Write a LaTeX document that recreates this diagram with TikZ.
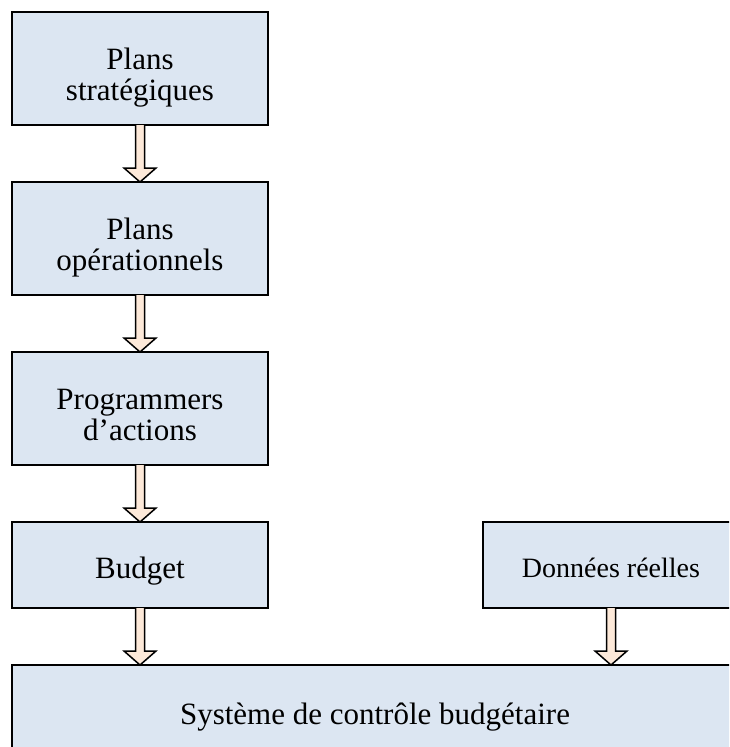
\documentclass[tikz,border=0pt]{standalone}
\usepackage{fontspec}
\setmainfont{Liberation Serif}
\usepackage{xcolor}
\usepackage{tikz}
\usetikzlibrary{positioning, calc}

\definecolor{boxblue}{HTML}{DCE6F2}
\definecolor{arrowpeach}{HTML}{FDE9D9}

% hollow block arrow from the bottom of #1 down to the top of #2
\newcommand{\bigarrow}[2]{%
  \draw[flow] let \p1=(#1.south), \p2=(#2.north) in
    (\x1-4.5pt,\y1) -- (\x1-4.5pt,\y2+14pt) -- (\x1-16pt,\y2+14pt) -- (\x1,\y2)
    -- (\x1+16pt,\y2+14pt) -- (\x1+4.5pt,\y2+14pt) -- (\x1+4.5pt,\y1);}

\begin{document}
\begin{tikzpicture}[x=1pt, y=1pt,
  box/.style={draw=black, fill=boxblue, line width=1.5pt, inner sep=0pt, outer sep=0pt,
    minimum width=256pt, minimum height=113pt, align=center,
    text height=34pt, text depth=7pt,
    font=\fontsize{31}{31}\selectfont},
  twoline/.style={text height=70pt},
  flow/.style={draw=black, fill=arrowpeach, line width=1.5pt, line join=miter}]
\clip (0,0) rectangle (729,-747);
\useasboundingbox (0,0) rectangle (729,-747);

\node[box, twoline, anchor=north west] (strat) at (12,-12) {Plans\\strat\'egiques};
\node[box, twoline, below=57pt of strat] (oper) {Plans\\op\'erationnels};
\node[box, twoline, below=57pt of oper] (prog) {Programmers\\d’actions};
\node[box, below=57pt of prog, minimum height=86pt] (budget) {Budget};
\node[box, right=215pt of budget, minimum height=86pt,
  font=\fontsize{28}{30}\selectfont, text height=31pt] (reel) {Donn\'ees r\'eelles};

%cadre du bas
\node[box, anchor=north west, minimum width=726pt, minimum height=92pt]
  (controle) at ([yshift=-57pt]budget.south west) {Syst\`eme de contr\^ole budg\'etaire};

\bigarrow{strat}{oper}
\bigarrow{oper}{prog}
\bigarrow{prog}{budget}
\bigarrow{budget}{controle}
\bigarrow{reel}{controle}
\end{tikzpicture}
\end{document}
